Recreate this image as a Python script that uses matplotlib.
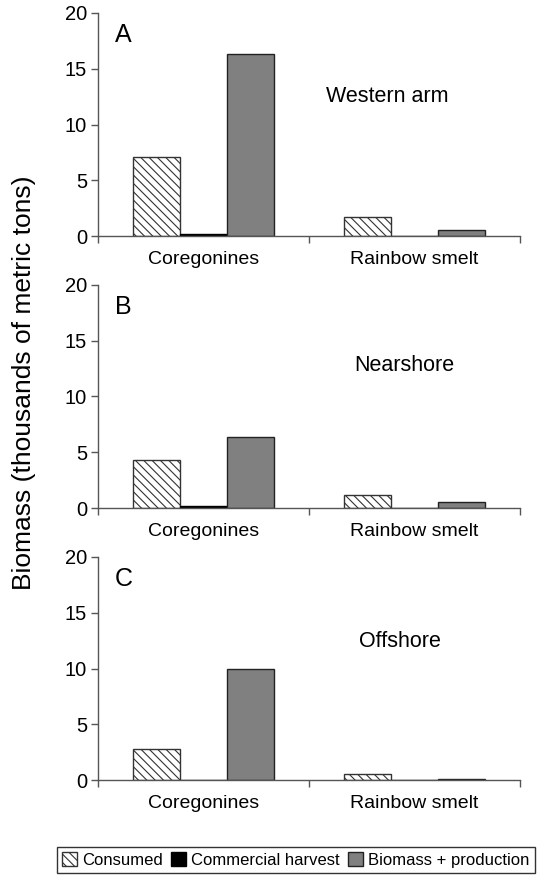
import matplotlib
matplotlib.use("Agg")
import matplotlib.pyplot as plt
from matplotlib.patches import Patch

plt.rcParams['font.family'] = ['Liberation Sans', 'DejaVu Sans']
plt.rcParams['hatch.linewidth'] = 0.8

categories = ["Coregonines", "Rainbow smelt"]
series = ["Consumed", "Commercial harvest", "Biomass + production"]
panels = ["A", "B", "C"]
regions = ["Western arm", "Nearshore", "Offshore"]

consumed_A = [7.1, 1.7]
harvest_A = [0.15, 0.0]
biomass_A = [16.3, 0.55]

consumed_B = [4.3, 1.2]
harvest_B = [0.15, 0.0]
biomass_B = [6.35, 0.5]

consumed_C = [2.8, 0.5]
harvest_C = [0.0, 0.0]
biomass_C = [10.0, 0.08]

yticks = [0, 5, 10, 15, 20]

data = [
    (consumed_A, harvest_A, biomass_A),
    (consumed_B, harvest_B, biomass_B),
    (consumed_C, harvest_C, biomass_C),
]

W, H = 542, 875
fig = plt.figure(figsize=(W / 100, H / 100), dpi=100)

left_px, right_px = 98, 520
zero_px = [236, 508, 780]
height_px = 223
region_pos = [(1.37, 12.5), (1.45, 12.8), (1.43, 12.4)]

axis_color = "#555555"
bar_w = 0.224
offsets = [-bar_w, 0.0, bar_w]
styles = [
    dict(facecolor="white", edgecolor="#333333", hatch="\\\\\\\\", linewidth=1.0),
    dict(facecolor="black", edgecolor="black", linewidth=1.0),
    dict(facecolor="#808080", edgecolor="#222222", linewidth=1.0),
]

centers = [0.5, 1.5]

for i, (vals, lab, reg) in enumerate(zip(data, panels, regions)):
    ax = fig.add_axes([left_px / W, 1 - zero_px[i] / H,
                       (right_px - left_px) / W, height_px / H])
    for j, (v, st) in enumerate(zip(vals, styles)):
        xs = [c + offsets[j] for c in centers]
        ax.bar(xs, v, width=bar_w, **st, zorder=2)
    ax.set_xlim(0, 2)
    ax.set_ylim(0, 20)
    ax.set_yticks(yticks)
    ax.set_xticks([0, 1, 2])
    ax.set_xticklabels([])
    ax.set_xticks(centers, minor=True)
    ax.set_xticklabels(categories, minor=True, fontsize=14)
    ax.tick_params(axis="x", which="minor", length=0, pad=11)
    ax.tick_params(axis="x", which="major", length=5, width=1, color=axis_color, direction="out")
    ax.tick_params(axis="y", length=5, width=1, color=axis_color, labelsize=14.5, pad=3)
    for s in ["top", "right"]:
        ax.spines[s].set_visible(False)
    for s in ["left", "bottom"]:
        ax.spines[s].set_color(axis_color)
        ax.spines[s].set_linewidth(1.0)
    ax.set_facecolor("none")
    ax.text(0.04, 0.9, lab, transform=ax.transAxes, fontsize=18, va="center", ha="left")
    ax.text(region_pos[i][0], region_pos[i][1], reg, fontsize=15.5, ha="center", va="center")

fig.text(24 / W, 1 - 383 / H, "Biomass (thousands of metric tons)", rotation=90,
         fontsize=19, ha="center", va="center")

handles = [Patch(**styles[0]), Patch(**styles[1]), Patch(**styles[2])]
fig.legend(handles, series, loc="center", bbox_to_anchor=(296 / W, 1 - 860 / H),
           ncol=3, frameon=True, fancybox=False, edgecolor="black", fontsize=12,
           handlelength=0.9, handleheight=0.9, handletextpad=0.3, columnspacing=0.5,
           borderpad=0.3, borderaxespad=0)

fig.savefig("out.png", dpi=100)
